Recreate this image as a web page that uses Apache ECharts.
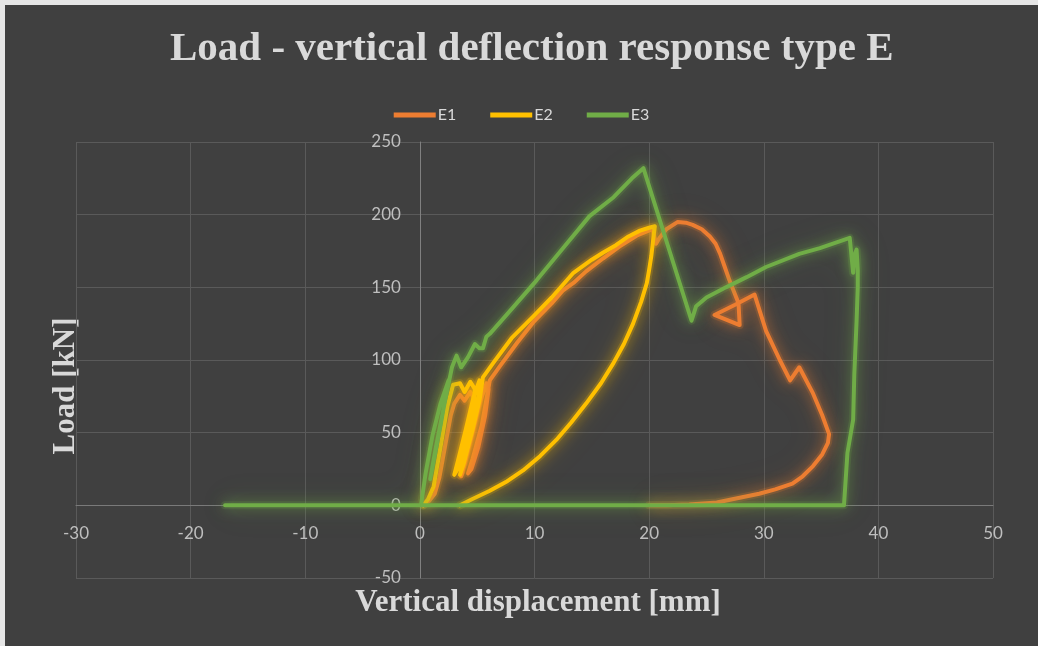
<!DOCTYPE html>
<html>
<head>
<meta charset="utf-8">
<script src="https://cdn.jsdelivr.net/npm/echarts@6/dist/echarts.min.js"></script>
<style>
  html, body { margin: 0; padding: 0; background: #e6e6e6; width: 1038px; height: 646px; overflow: hidden; }
  #chart { position: absolute; left: 5px; top: 5px; width: 1033px; height: 641px; background: #404040; }
</style>
</head>
<body>
<div id="chart"></div>
<script>
const titleText = 'Load - vertical deflection response type E';
const xAxisName = 'Vertical displacement [mm]';
const yAxisName = 'Load [kN]';
const seriesNames = ['E1', 'E2', 'E3'];
const seriesColors = ['#ED7D31', '#FFC000', '#70AD47'];

// E1: [displacement mm, load kN]
const dataE1 = [
  [0.3,0],[0.8,3],[1.3,8],[1.7,19],[2.3,45],[2.7,62],[3.0,70],[3.5,76],[3.9,72],[4.4,78],[4.7,74],
  [4.4,55],[4.0,35],[3.7,22],[3.6,20],[3.9,28],[4.6,50],[5.3,72],[5.8,84],[6.0,80],[5.7,62],
  [5.1,40],[4.5,25],[4.2,22],[4.6,32],[5.4,55],[6.1,86],[7.0,96],[8.5,112],[9.9,126],[11.5,139],
  [12.5,148],[13.4,153],[14.5,161],[16,170],[17.4,178],[19,186],[20.3,190],[20.6,180],[20.9,184],
  [21.5,190],[22.5,195],[23.2,194.5],[23.8,193],[24.6,190],[25.3,185],[25.8,180],[26.2,173],[26.6,164],[27.0,155],[27.8,139],
  [27.9,124],[25.7,131],[27.5,138],[29.2,145],[30.2,120],[31.4,100],[32.3,86],[33.1,95],
  [34.3,77],[35.1,62],[35.7,49],[35.6,43],[35.1,35],[34.3,27],[33.4,20],[32.5,15],[31.0,11],[29.6,8],[27.8,5],[25.9,2],[23.5,0.5],[21.5,0],[20,0]
];
// E2
const dataE2 = [
  [0.3,0],[0.7,4],[1.2,13],[1.8,40],[2.4,68],[2.9,83],[3.5,84],[3.9,78],[4.4,85],[4.8,80],
  [4.6,65],[4.0,42],[3.3,25],[3.0,21],[3.3,30],[4.0,52],[4.7,75],[5.2,86],[5.1,75],[4.6,55],
  [3.9,32],[3.5,21],[3.8,28],[4.6,52],[5.2,72],[5.5,88],[6.5,99],[8,115],[9.9,130],[11.5,143],
  [13.4,160],[15,169],[16,174],[17.1,179],[18.2,185],[19.2,189],[20.0,191],[20.5,192],[20.4,186],[20.2,172],[20.0,162],[19.8,153],
  [19.3,140],[18.6,125],[17.8,111],[16.9,98],[15.8,84],[14.5,70],[13.2,57],[11.9,45],[10.5,34],[9.0,24],[7.5,16],[6.1,10],[4.5,4],[3.5,0]
];
// E3
const dataE3 = [
  [0.1,0],[0.5,22],[1.1,48],[1.8,70],[2.5,86],[1.8,55],[0.9,18],[1.4,40],[2.2,72],[2.8,95],
  [3.2,103],[3.6,95],[4.2,102],[4.8,111],[5.2,108],[5.5,108],[5.8,116],[6.1,118],[8,135],
  [10.2,155],[12.5,177],[14.8,199],[16.9,212],[18.5,225],[19.5,232],[23.7,127],[24.1,137],
  [25.0,143],[26.7,150],[28.5,157],[30.2,164],[33.1,173],[34.9,177],[37.5,184],[37.6,185],
  [37.8,160],[37.9,172],[38.1,176],[38.2,162],[38.2,150],[38.1,127],[37.9,90],[37.8,59],
  [37.3,36],[37.0,0],[-17,0]
];
const seriesData = [dataE1, dataE2, dataE3];

const xTicks = { min: -30, max: 50, interval: 10 };
const yTicks = { min: -50, max: 250, interval: 50 };

function hexA(hex, a) {
  const r = parseInt(hex.slice(1,3),16), g = parseInt(hex.slice(3,5),16), b = parseInt(hex.slice(5,7),16);
  return 'rgba(' + r + ',' + g + ',' + b + ',' + a + ')';
}

const gridLeft = 71, gridTop = 137, gridRight = 45, gridBottom = 68;
const W = 1033, H = 641;
const gridW = W - gridLeft - gridRight, gridH = H - gridTop - gridBottom;
// move axes (with their labels) to the zero crossing, as in the reference
const xAxisOffset = -gridH * (0 - yTicks.min) / (yTicks.max - yTicks.min);
const yAxisOffset = -gridW * (0 - xTicks.min) / (xTicks.max - xTicks.min);

const chart = echarts.init(document.getElementById('chart'), null, { renderer: 'canvas' });
const labelFont = 'Lato, "Open Sans", sans-serif';
const serifFont = '"Liberation Serif", "DejaVu Serif", serif';

const mainSeries = seriesNames.map((name, i) => ({
  name: name,
  type: 'line',
  data: seriesData[i],
  showSymbol: false,
  symbol: 'none',
  z: 5 + i,
  color: seriesColors[i],
  lineStyle: {
    width: 4,
    color: seriesColors[i],
    shadowColor: hexA(seriesColors[i], 0.9),
    shadowBlur: 14,
    cap: 'round',
    join: 'round'
  }
}));
// soft glow under each line (Excel "glow" effect)
const glowSeries = seriesNames.map((name, i) => ({
  name: name + ' glow',
  type: 'line',
  data: seriesData[i],
  showSymbol: false,
  symbol: 'none',
  silent: true,
  z: 1 + i,
  color: seriesColors[i],
  lineStyle: {
    width: 8,
    color: hexA(seriesColors[i], 0.18),
    shadowColor: hexA(seriesColors[i], 0.7),
    shadowBlur: 32,
    cap: 'round',
    join: 'round'
  }
}));

chart.setOption({
  animation: false,
  backgroundColor: '#404040',
  title: {
    text: titleText,
    left: 160,
    top: 19,
    textStyle: { color: '#d9d9d9', fontFamily: serifFont, fontWeight: 'bold', fontSize: 41 }
  },
  legend: {
    data: seriesNames,
    top: 97,
    left: 'center',
    icon: 'rect',
    itemWidth: 42,
    itemHeight: 5,
    itemGap: 34,
    textStyle: { color: '#d9d9d9', fontFamily: labelFont, fontSize: 16, padding: [0,0,0,-3] }
  },
  grid: { left: gridLeft, top: gridTop, right: gridRight, bottom: gridBottom, containLabel: false },
  xAxis: {
    type: 'value',
    min: xTicks.min, max: xTicks.max, interval: xTicks.interval,
    offset: xAxisOffset,
    axisLine: { show: true, onZero: false, lineStyle: { color: '#7a7a7a', width: 1 } },
    axisTick: { show: false },
    axisLabel: { color: '#bfbfbf', fontFamily: labelFont, fontSize: 17, margin: 20 },
    splitLine: { show: true, lineStyle: { color: '#5a5a5a', width: 1 } }
  },
  yAxis: {
    type: 'value',
    min: yTicks.min, max: yTicks.max, interval: yTicks.interval,
    offset: yAxisOffset,
    axisLine: { show: true, onZero: false, lineStyle: { color: '#808080', width: 1 } },
    axisTick: { show: false },
    axisLabel: { color: '#bfbfbf', fontFamily: labelFont, fontSize: 17, margin: 19 },
    splitLine: { show: true, lineStyle: { color: '#5a5a5a', width: 1 } }
  },
  graphic: [
    {
      type: 'text', x: 533, y: 598,
      style: { text: xAxisName, fill: '#d9d9d9', font: 'bold 31px ' + serifFont, align: 'center', verticalAlign: 'middle' }
    },
    {
      type: 'text', x: 61, y: 381, rotation: Math.PI / 2,
      style: { text: yAxisName, fill: '#d9d9d9', font: 'bold 31px ' + serifFont, align: 'center', verticalAlign: 'middle' }
    }
  ],
  series: mainSeries.concat(glowSeries)
});
</script>
</body>
</html>
